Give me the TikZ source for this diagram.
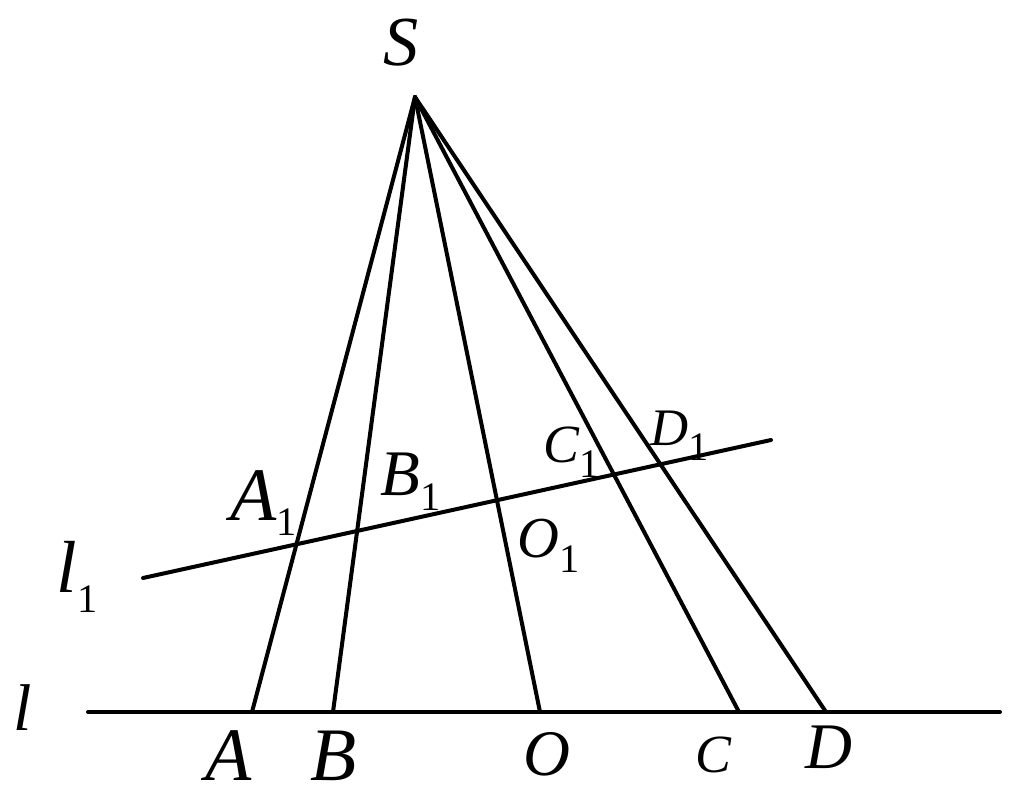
\documentclass[tikz,border=0pt]{standalone}
\usepackage{fontspec}
\setmainfont{Liberation Serif}
\newcommand{\one}[1][4.5pt]{\raisebox{-#1}{\upshape\fontsize{11.5}{11.5}\selectfont 1}}
\tikzset{
  ln/.style={line width=0.4mm, line cap=round},
  lab/.style={inner sep=0pt, anchor=base west},
}
\begin{document}
\begin{tikzpicture}[x=0.1mm,y=-0.1mm]
\useasboundingbox (0,0) rectangle (1014,804);
% points
\coordinate (S) at (415,97);
\coordinate (A) at (252,712);
\coordinate (B) at (333,712);
\coordinate (O) at (540,712);
\coordinate (C) at (739,712);
\coordinate (D) at (826,712);
\coordinate (lL) at (88,712);
\coordinate (lR) at (1000,712);
\coordinate (mL) at (143,578);
\coordinate (mR) at (771,440);

\draw[ln] (lL)--(lR);
\draw[ln] (mL)--(mR);
\draw[ln] (S)--(A);
\draw[ln] (S)--(B);
\draw[ln] (S)--(O);
\draw[ln] (S)--(C);
\draw[ln] (S)--(D);

% labels
\node[lab, font=\fontsize{20}{20}\selectfont\itshape] (tS) at (383,65) {S};
\node[lab, font=\fontsize{21.5}{21.5}\selectfont\itshape] (tA) at (205,780) {A};
\node[lab, font=\fontsize{21.5}{21.5}\selectfont\itshape] (tB) at (310,780) {B};
\node[lab, font=\fontsize{18.5}{18.5}\selectfont\itshape] (tO) at (523,775) {O};
\node[lab, font=\fontsize{15.3}{15.3}\selectfont\itshape] (tC) at (695,772) {C};
\node[lab, font=\fontsize{18.5}{18.5}\selectfont\itshape] (tD) at (805,768) {D};
\node[lab, font=\fontsize{18.8}{18.8}\selectfont\itshape] (tl) at (13,730) {l};
\node[lab, font=\fontsize{21}{21}\selectfont\itshape] (tm) at (56,592) {l\one[5.7pt]};
\node[lab, font=\fontsize{21.5}{21.5}\selectfont\itshape] (tA1) at (230,520) {A\one};
\node[lab, font=\fontsize{18.5}{18.5}\selectfont\itshape] (tB1) at (380,495) {B\one};
\node[lab, font=\fontsize{16.5}{16.5}\selectfont\itshape] (tO1) at (517,557) {O\one};
\node[lab, font=\fontsize{15.3}{15.3}\selectfont\itshape] (tC1) at (543,462) {C\one};
\node[lab, font=\fontsize{15}{15}\selectfont\itshape] (tD1) at (650,445) {D\one};
\end{tikzpicture}
\end{document}
